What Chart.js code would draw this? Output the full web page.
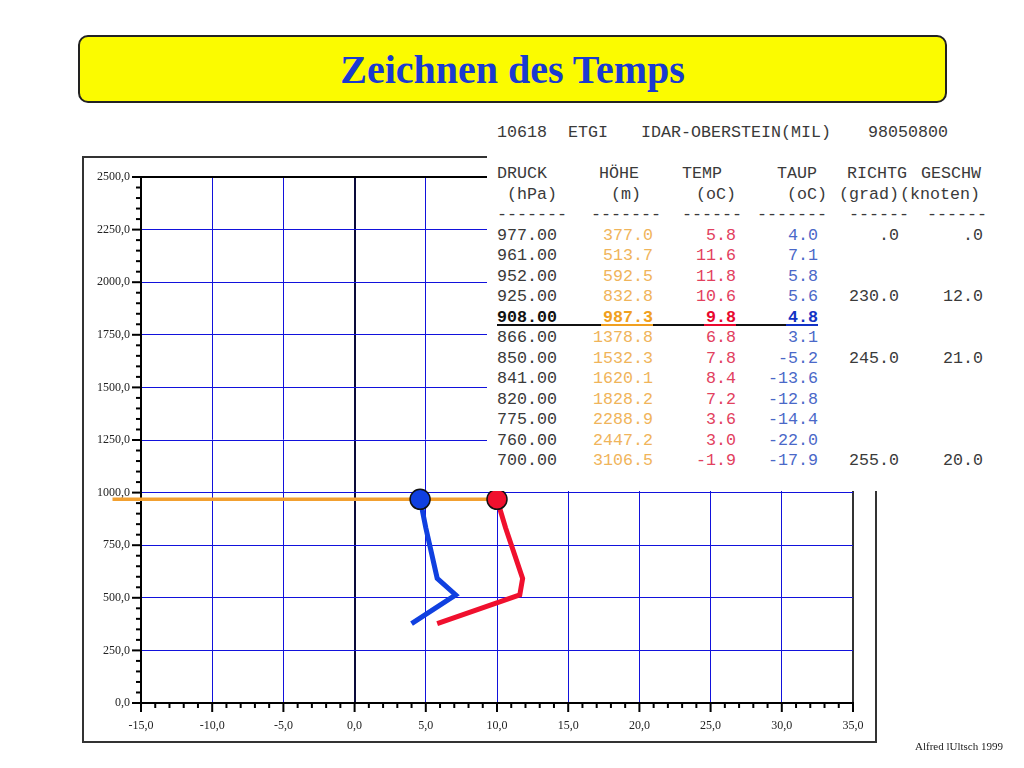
<!DOCTYPE html>
<html><head><meta charset="utf-8">
<script src="https://cdn.jsdelivr.net/npm/chart.js@4.4.1/dist/chart.umd.min.js"></script>
<style>
html,body{margin:0;padding:0;background:#fff;width:1024px;height:768px;overflow:hidden;position:relative;}
#frame{position:absolute;left:82px;top:156px;width:795px;height:587px;box-sizing:border-box;border:2px solid #333;}
#c{position:absolute;left:0;top:0;}
#titlebox{position:absolute;left:78px;top:35px;width:869px;height:68px;box-sizing:border-box;border:2px solid #222;border-radius:10px;background:#fbfb00;display:flex;align-items:center;justify-content:center;}
#titlebox span{font-family:"Liberation Serif","Times New Roman",serif;font-weight:bold;font-size:40px;color:#1a3ad0;}
#tablebg{position:absolute;left:487px;top:112px;width:537px;height:379px;background:#fff;}
.t{position:absolute;font-family:"Liberation Mono","Courier New",monospace;font-size:16.67px;line-height:20.5px;white-space:pre;color:#3a3a3a;}
.ul{position:absolute;height:2px;}
#footer{position:absolute;left:915px;top:740px;font-family:"Liberation Serif",serif;font-size:11px;color:#222;}
</style></head>
<body>
<div id="titlebox"><span>Zeichnen des Temps</span></div>
<div id="frame"></div>
<canvas id="c" width="1024" height="768"></canvas>
<div id="tablebg"></div>
<div id="tbl"></div>
<div id="footer">Alfred lUltsch 1999</div>
<script>
// ---- data: table text ----
const stationId = '10618';
const stationIcao = 'ETGI';
const stationName = 'IDAR-OBERSTEIN(MIL)';
const obsDate = '98050800';
const pressures = [977.00, 961.00, 952.00, 925.00, 908.00, 866.00, 850.00, 841.00, 820.00, 775.00, 760.00, 700.00];
const heights   = [377.0, 513.7, 592.5, 832.8, 987.3, 1378.8, 1532.3, 1620.1, 1828.2, 2288.9, 2447.2, 3106.5];
const temps     = [5.8, 11.6, 11.8, 10.6, 9.8, 6.8, 7.8, 8.4, 7.2, 3.6, 3.0, -1.9];
const dewpoints = [4.0, 7.1, 5.8, 5.6, 4.8, 3.1, -5.2, -13.6, -12.8, -14.4, -22.0, -17.9];
const windDir   = [0, null, null, 230.0, null, null, 245.0, null, null, null, null, 255.0];
const windSpeed = [0, null, null, 12.0, null, null, 21.0, null, null, null, null, 20.0];
const selectedLevel = 4;               // 908 hPa row (bold)

// ---- data: plotted curves ----
const chartHeights = [377.0, 513.7, 592.5, 832.8, 968.0];
const chartTemps   = [5.8, 11.6, 11.8, 10.6, 10.0];
const chartDew     = [4.0, 7.1, 5.8, 5.0, 4.6];

// ---- axes ----
const xTickValues = [-15, -10, -5, 0, 5, 10, 15, 20, 25, 30, 35];
const xTickLabels = ['-15,0','-10,0','-5,0','0,0','5,0','10,0','15,0','20,0','25,0','30,0','35,0'];
const yTickValues = [0, 250, 500, 750, 1000, 1250, 1500, 1750, 2000, 2250, 2500];
const yTickLabels = ['0,0','250,0','500,0','750,0','1000,0','1250,0','1500,0','1750,0','2000,0','2250,0','2500,0'];

// ---- table (text) ----
const tbl = document.getElementById('tbl');
const ROW0 = 164.3, ROWH = 20.5;
function put(text, x, top, opt={}){
  const d = document.createElement('div');
  d.className = 't';
  d.textContent = text;
  d.style.top = top + 'px';
  if (opt.align === 'right') d.style.right = (1024 - x) + 'px'; else d.style.left = x + 'px';
  if (opt.color) d.style.color = opt.color;
  if (opt.bold) d.style.fontWeight = 'bold';
  tbl.appendChild(d);
}
const rowTop = i => ROW0 + ROWH * i;
put(stationId, 497, 123.3); put(stationIcao, 568, 123.3); put(stationName, 641, 123.3); put(obsDate, 868, 123.3);
put('DRUCK', 497, rowTop(0)); put('HÖHE', 599, rowTop(0)); put('TEMP', 682, rowTop(0));
put('TAUP', 777, rowTop(0)); put('RICHTG', 847, rowTop(0)); put('GESCHW', 921, rowTop(0));
put('(hPa)', 507, rowTop(1)); put('(m)', 611, rowTop(1)); put('(oC)', 696, rowTop(1));
put('(oC)', 787, rowTop(1)); put('(grad)', 839, rowTop(1)); put('(knoten)', 900, rowTop(1));
put('-------', 497, rowTop(2)); put('-------', 591, rowTop(2)); put('------', 682, rowTop(2));
put('-------', 757, rowTop(2)); put('------', 849, rowTop(2)); put('------', 927, rowTop(2));
const fmtWind = v => v === 0 ? '.0' : v.toFixed(1);
const cOr = '#f0b45a', cRe = '#e2405e', cBl = '#4a68c8';
pressures.forEach((p, i) => {
  const b = i === selectedLevel;
  const top = rowTop(3 + i);
  put(p.toFixed(2), 497, top, {bold: b, color: b ? '#111' : undefined});
  put(heights[i].toFixed(1), 653, top, {align:'right', color: b ? '#f0a020' : cOr, bold: b});
  put(temps[i].toFixed(1), 736, top, {align:'right', color: b ? '#e8082e' : cRe, bold: b});
  put(dewpoints[i].toFixed(1), 818, top, {align:'right', color: b ? '#1232c4' : cBl, bold: b});
  if (windDir[i] !== null) put(fmtWind(windDir[i]), 899, top, {align:'right'});
  if (windSpeed[i] !== null) put(fmtWind(windSpeed[i]), 983, top, {align:'right'});
});
function ul(x1, x2, color){
  const d = document.createElement('div'); d.className = 'ul';
  d.style.left = x1 + 'px'; d.style.width = (x2 - x1) + 'px';
  d.style.top = (rowTop(3 + selectedLevel) + 16) + 'px'; d.style.background = color;
  tbl.appendChild(d);
}
ul(497, 818, '#111'); ul(601, 653, '#f0a020'); ul(704, 736, '#e8082e'); ul(786, 818, '#1232c4');

// ---- chart ----
const X_MIN = xTickValues[0], X_MAX = xTickValues[xTickValues.length - 1];
const Y_MIN = yTickValues[0], Y_MAX = yTickValues[yTickValues.length - 1];
const tempPts = chartHeights.map((h, i) => ({x: chartTemps[i], y: h}));
const dewPts = chartHeights.map((h, i) => ({x: chartDew[i], y: h}));
const last = chartHeights.length - 1;
const levelPts = [{x: X_MIN - 2, y: chartHeights[last]}, {x: chartTemps[last], y: chartHeights[last]}];

const BLUE_GRID = '#1212dc';
const tickMarks = {
  id: 'tickMarks',
  afterDraw(chart){
    const {ctx, scales:{x, y}} = chart;
    ctx.save(); ctx.strokeStyle = '#000'; ctx.lineWidth = 2;
    x.ticks.forEach(t => {
      const px = x.getPixelForValue(t.value);
      const len = xTickValues.includes(t.value) ? 9 : 5;
      ctx.beginPath(); ctx.moveTo(px, x.top); ctx.lineTo(px, x.top + len); ctx.stroke();
    });
    y.ticks.forEach(t => {
      const py = y.getPixelForValue(t.value);
      const len = yTickValues.includes(t.value) ? 9 : 5;
      ctx.beginPath(); ctx.moveTo(y.right, py); ctx.lineTo(y.right - len, py); ctx.stroke();
    });
    ctx.restore();
  }
};

new Chart(document.getElementById('c'), {
  type: 'line',
  data: {
    datasets: [
      {label: 'TEMP', data: tempPts, borderColor: '#f0102e', borderWidth: 5, tension: 0,
       borderJoinStyle: 'miter', pointRadius: c => c.dataIndex === last ? 10 : 0,
       pointBackgroundColor: '#f0102e', pointBorderColor: '#111', pointBorderWidth: 1.5, clip: false},
      {label: 'TAUP', data: dewPts, borderColor: '#1040e0', borderWidth: 5, tension: 0,
       borderJoinStyle: 'miter', pointRadius: c => c.dataIndex === last ? 10 : 0,
       pointBackgroundColor: '#1040e0', pointBorderColor: '#111', pointBorderWidth: 1.5, clip: false},
      {label: 'level', data: levelPts, borderColor: '#f2a030', borderWidth: 3.5, pointRadius: 0, clip: false}
    ]
  },
  options: {
    responsive: false, animation: false, devicePixelRatio: 1,
    layout: {padding: {left: 0, top: 177, right: 171, bottom: 0}},
    plugins: {legend: {display: false}, tooltip: {enabled: false}},
    scales: {
      x: {
        type: 'linear', min: X_MIN, max: X_MAX,
        afterFit: s => { s.height = 65; },
        afterBuildTicks: s => { s.ticks = []; for (let v = X_MIN; v <= X_MAX; v++) s.ticks.push({value: v}); },
        ticks: {autoSkip: false, maxRotation: 0, padding: 16, color: '#222',
          font: {family: 'Liberation Serif', size: 12},
          callback: v => { const i = xTickValues.indexOf(v); return i >= 0 ? xTickLabels[i] : ''; }},
        grid: {drawTicks: false,
          color: c => { const v = c.tick && c.tick.value; if (v === 0) return '#0a0a3a'; if (v === X_MAX) return '#333'; return xTickValues.includes(v) ? BLUE_GRID : 'rgba(0,0,0,0)'; },
          lineWidth: c => (c.tick && (c.tick.value === 0 || c.tick.value === X_MAX)) ? 2 : 1},
        border: {color: '#000', width: 2}
      },
      y: {
        type: 'linear', min: Y_MIN, max: Y_MAX,
        afterFit: s => { s.width = 141; },
        afterBuildTicks: s => { s.ticks = []; for (let v = Y_MIN; v <= Y_MAX; v += 50) s.ticks.push({value: v}); },
        ticks: {autoSkip: false, padding: 11, color: '#222',
          font: {family: 'Liberation Serif', size: 12},
          callback: v => { const i = yTickValues.indexOf(v); return i >= 0 ? yTickLabels[i] : ''; }},
        grid: {drawTicks: false,
          color: c => { const v = c.tick && c.tick.value; if (v === Y_MAX) return '#000'; return yTickValues.includes(v) ? BLUE_GRID : 'rgba(0,0,0,0)'; },
          lineWidth: c => (c.tick && c.tick.value === Y_MAX) ? 2 : 1},
        border: {color: '#000', width: 2}
      }
    }
  },
  plugins: [tickMarks]
});
</script>
</body></html>
